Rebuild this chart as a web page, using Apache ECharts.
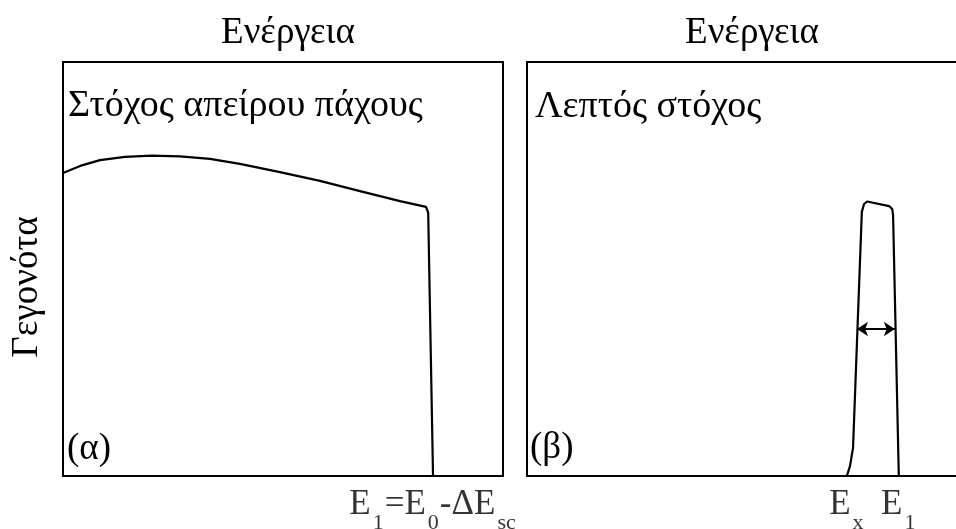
<!DOCTYPE html>
<html>
<head>
<meta charset="utf-8">
<script src="https://cdn.jsdelivr.net/npm/echarts@6/dist/echarts.min.js"></script>
<style>
  html, body { margin: 0; padding: 0; background: #fff; }
  #chart { width: 956px; height: 529px; }
</style>
</head>
<body>
<div id="chart"></div>
<script>
// Energy spectra (arbitrary units): thick target vs thin target
const thickEnergy = [0, 3.9, 8.4, 14.1, 20.2, 26.6, 33.4, 40.2, 49.3, 58.4, 67.5, 76.6, 82.5, 83.0, 84.1];
const thickCounts = [73.2, 74.9, 76.3, 77.1, 77.4, 77.2, 76.6, 75.4, 73.4, 71.3, 68.8, 66.4, 65.0, 63.6, 0];

const thinEnergy = [72.7, 73.4, 74.1, 76.1, 76.6, 77.3, 82.3, 83.0, 83.2, 84.5];
const thinCounts = [0, 2.4, 6.8, 63.8, 65.7, 66.3, 65.2, 64.5, 63.0, 0];

// Width of the thin-target peak (double arrow)
const widthArrowX = [75.0, 83.6];
const widthArrowY = 35.5;

// Energy marks under the axes
const thickMarkEnergy = [84.1];
const thinMarkEnergy = [72.7, 84.5];

// Visible energy range of each panel (the thin-target panel runs off the right edge)
const energyMax = [100, 97.5];

const panelTitle = 'Ενέργεια';
const yTitle = 'Γεγονότα';
const panelLabels = ['Στόχος απείρου πάχους', 'Λεπτός στόχος'];
const panelTags = ['(α)', '(β)'];

const FONT = '"Liberation Serif", "DejaVu Serif", serif';
const TXT = '37px ' + FONT;
const TXT_PANEL = '38px ' + FONT;

const rich = {
  m: { fontFamily: FONT, fontSize: 35, color: '#000', lineHeight: 40, verticalAlign: 'top' },
  s: { fontFamily: FONT, fontSize: 22, color: '#000', lineHeight: 22, verticalAlign: 'top', padding: [25, 1, 0, 2] }
};

const chart = echarts.init(document.getElementById('chart'), null, { renderer: 'canvas' });

const blackLine = { show: true, onZero: false, lineStyle: { color: '#000', width: 2 } };
const bareAxis = { show: true, axisTick: { show: false }, axisLabel: { show: false }, splitLine: { show: false } };

function markLabels(idx, energies, texts) {
  return {
    type: 'scatter',
    xAxisIndex: idx, yAxisIndex: idx,
    symbolSize: 1,
    itemStyle: { color: 'transparent' },
    clip: false,
    silent: true,
    data: energies.map(function (e, i) { return { value: [e, 0], label: { formatter: texts[i] } }; }),
    label: { show: true, position: 'bottom', distance: 11, rich: rich }
  };
}

function txt(x, y, text, align, font, extra) {
  return Object.assign({
    type: 'text', x: x, y: y,
    style: { text: text, font: font, fill: '#000', align: align, verticalAlign: 'middle' }
  }, extra || {});
}

chart.setOption({
  animation: false,
  grid: [
    { left: 63, top: 62, width: 440, height: 414, show: true, borderColor: '#000', borderWidth: 2 },
    { left: 527, top: 62, width: 429, height: 414, show: false }
  ],
  xAxis: [
    { type: 'value', gridIndex: 0, min: 0, max: energyMax[0], show: false },
    Object.assign({ type: 'value', gridIndex: 1, min: 0, max: energyMax[1], position: 'bottom', axisLine: blackLine }, bareAxis),
    Object.assign({ type: 'value', gridIndex: 1, min: 0, max: energyMax[1], position: 'top', axisLine: blackLine }, bareAxis)
  ],
  yAxis: [
    { type: 'value', gridIndex: 0, min: 0, max: 100, show: false },
    Object.assign({ type: 'value', gridIndex: 1, min: 0, max: 100, position: 'left', axisLine: blackLine }, bareAxis)
  ],
  series: [
    {
      type: 'line', xAxisIndex: 0, yAxisIndex: 0,
      data: thickEnergy.map(function (e, i) { return [e, thickCounts[i]]; }),
      symbol: 'none', smooth: false,
      lineStyle: { color: '#000', width: 2.2 }
    },
    {
      type: 'line', xAxisIndex: 1, yAxisIndex: 1,
      data: thinEnergy.map(function (e, i) { return [e, thinCounts[i]]; }),
      symbol: 'none', smooth: false,
      lineStyle: { color: '#000', width: 2.2 },
      markLine: {
        silent: true,
        symbol: ['arrow', 'arrow'],
        symbolSize: [11, 11],
        label: { show: false },
        lineStyle: { color: '#000', width: 2, type: 'solid' },
        data: [[{ coord: [widthArrowX[0], widthArrowY] }, { coord: [widthArrowX[1], widthArrowY] }]]
      }
    },
    markLabels(0, thickMarkEnergy, ['{m|E}{s|1}{m|=E}{s|0}{m|-ΔE}{s|sc}']),
    markLabels(1, thinMarkEnergy, ['{m|E}{s|x}', '{m|E}{s|1}'])
  ],
  graphic: [
    txt(288, 33, panelTitle, 'center', TXT),
    txt(752, 33, panelTitle, 'center', TXT),
    txt(27, 287, yTitle, 'center', TXT, { rotation: Math.PI / 2 }),
    txt(68, 106, panelLabels[0], 'left', TXT_PANEL),
    txt(535, 107, panelLabels[1], 'left', TXT_PANEL),
    txt(67, 449, panelTags[0], 'left', TXT),
    txt(530, 448, panelTags[1], 'left', TXT)
  ]
});
</script>
</body>
</html>
